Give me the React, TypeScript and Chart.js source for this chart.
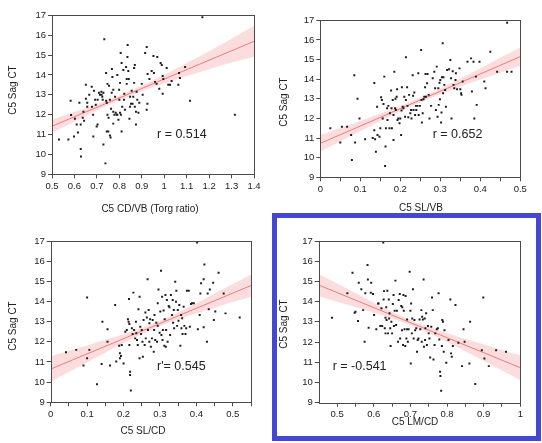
import React, { useEffect, useRef } from 'react';
import { Chart, registerables } from 'chart.js';

Chart.register(...registerables);

// ---------- Panel 1: C5 CD/VB (Torg ratio) ----------
const x1 = [
  0.531, 0.573, 0.583, 0.585, 0.598, 0.602, 0.610, 0.616, 0.622, 0.628,
  0.628, 0.629, 0.637, 0.640, 0.643, 0.651, 0.651, 0.657, 0.657, 0.666,
  0.677, 0.678, 0.683, 0.684, 0.687, 0.692, 0.695, 0.699, 0.703, 0.703,
  0.709, 0.714, 0.720, 0.721, 0.724, 0.726, 0.729, 0.729, 0.733, 0.738,
  0.741, 0.741, 0.744, 0.744, 0.747, 0.747, 0.751, 0.752, 0.754, 0.758,
  0.758, 0.761, 0.763, 0.766, 0.767, 0.769, 0.773, 0.773, 0.773, 0.778,
  0.781, 0.784, 0.788, 0.791, 0.791, 0.796, 0.799, 0.800, 0.803, 0.803,
  0.806, 0.807, 0.810, 0.810, 0.813, 0.818, 0.821, 0.822, 0.825, 0.830,
  0.833, 0.833, 0.836, 0.837, 0.840, 0.842, 0.845, 0.848, 0.848, 0.852,
  0.855, 0.859, 0.862, 0.866, 0.866, 0.869, 0.869, 0.874, 0.874, 0.877,
  0.880, 0.885, 0.889, 0.900, 0.904, 0.915, 0.922, 0.922, 0.925, 0.926,
  0.934, 0.944, 0.952, 0.954, 0.959, 0.966, 0.969, 0.978, 0.984, 0.989,
  0.993, 0.993, 0.996, 1.011, 1.018, 1.026, 1.033, 1.063, 1.066, 1.070,
  1.093, 1.115, 1.170, 1.315,
];
const y1 = [
  10.75, 10.75, 12.7, 11.98, 10.9, 11.8, 11.5, 11.1, 12.6, 11.5,
  10.27, 9.9, 11.85, 12.15, 11.7, 13.5, 12.8, 12.4, 12.6, 13.0,
  13.4, 12.4, 12.0, 10.9, 13.2, 12.75, 12.5, 11.4, 11.5, 12.75,
  13.1, 13.0, 13.15, 13.0, 12.9, 12.75, 13.1, 10.5, 15.8, 9.55,
  14.1, 12.7, 11.15, 12.6, 13.55, 12.0, 11.15, 11.85, 13.45, 10.95,
  12.75, 10.85, 12.3, 13.1, 14.3, 13.9, 13.25, 12.15, 11.55, 12.0,
  12.9, 12.1, 12.0, 14.0, 12.0, 11.75, 13.25, 12.75, 13.6, 12.1,
  15.1, 12.0, 14.6, 11.15, 12.4, 14.25, 12.75, 13.05, 12.25, 14.4,
  13.8, 13.55, 14.9, 15.5, 14.2, 13.8, 11.8, 12.4, 12.9, 12.55,
  13.2, 12.55, 12.9, 13.6, 14.35, 14.5, 12.4, 12.15, 11.5, 13.15,
  12.75, 12.1, 12.6, 13.55, 13.0, 15.1, 15.4, 12.25, 12.55, 14.05,
  13.8, 14.2, 14.95, 14.1, 13.65, 13.55, 14.9, 13.3, 14.6, 14.5,
  13.95, 13.05, 13.8, 14.35, 13.5, 13.5, 13.7, 13.5, 14.1, 13.85,
  14.4, 12.7, 16.9, 12.0,
];
const xTicks1 = [0.5, 0.6, 0.7, 0.8, 0.9, 1.0, 1.1, 1.2, 1.3, 1.4];
const fitX1 = [0.5, 1.4];
const fitY1 = [11.42, 15.69];
const bandX1 = [0.5, 0.6, 0.7, 0.8, 0.9, 1.0, 1.1, 1.2, 1.3, 1.4];
const bandUp1 = [11.75, 12.13, 12.53, 12.96, 13.46, 14.01, 14.6, 15.19, 15.82, 16.46];
const bandLo1 = [11.09, 11.65, 12.21, 12.72, 13.18, 13.57, 13.94, 14.29, 14.62, 14.92];

// ---------- Panel 2: C5 SL/VB ----------
const x2 = [
  0.025, 0.05, 0.054, 0.067, 0.077, 0.079, 0.085, 0.087, 0.093, 0.098,
  0.112, 0.131, 0.135, 0.135, 0.137, 0.139, 0.142, 0.143, 0.148, 0.15,
  0.152, 0.154, 0.156, 0.158, 0.16, 0.162, 0.163, 0.164, 0.167, 0.168,
  0.17, 0.173, 0.174, 0.177, 0.178, 0.179, 0.181, 0.183, 0.183, 0.185,
  0.187, 0.188, 0.189, 0.191, 0.192, 0.193, 0.195, 0.198, 0.2, 0.202,
  0.203, 0.204, 0.206, 0.208, 0.21, 0.212, 0.214, 0.214, 0.217, 0.218,
  0.22, 0.222, 0.225, 0.227, 0.228, 0.231, 0.232, 0.233, 0.235, 0.237,
  0.239, 0.24, 0.243, 0.245, 0.246, 0.249, 0.252, 0.253, 0.254, 0.256,
  0.258, 0.26, 0.262, 0.263, 0.264, 0.267, 0.268, 0.271, 0.273, 0.277,
  0.281, 0.285, 0.287, 0.289, 0.291, 0.293, 0.295, 0.296, 0.298, 0.299,
  0.3, 0.302, 0.303, 0.304, 0.306, 0.307, 0.308, 0.31, 0.312, 0.314,
  0.317, 0.322, 0.325, 0.327, 0.328, 0.331, 0.333, 0.335, 0.338, 0.339,
  0.342, 0.348, 0.35, 0.352, 0.353, 0.356, 0.368, 0.377, 0.379, 0.383,
  0.385, 0.389, 0.391, 0.398, 0.41, 0.413, 0.425, 0.442, 0.467, 0.467,
  0.478,
];
const y2 = [
  11.5, 10.77, 11.58, 11.58, 11.16, 9.88, 14.2, 10.77, 13.0, 12.0,
  10.94, 11.0, 13.8, 11.4, 10.94, 10.3, 12.6, 11.16, 11.07, 11.5,
  13.08, 12.94, 12.0, 12.74, 14.13, 9.58, 10.57, 11.5, 12.52, 11.92,
  12.64, 11.5, 12.26, 13.42, 12.52, 11.5, 12.94, 12.18, 10.9, 14.38,
  12.52, 13.0, 12.43, 13.11, 13.49, 11.92, 12.0, 11.75, 12.0, 11.16,
  12.4, 13.59, 12.6, 12.52, 13.11, 12.09, 15.12, 12.94, 13.59, 12.64,
  12.06, 13.2, 12.26, 12.43, 12.0, 14.2, 13.15, 12.43, 13.32, 12.18,
  12.64, 12.43, 12.64, 14.3, 12.18, 12.64, 15.49, 12.94, 11.79, 12.26,
  12.98, 13.11, 13.59, 14.26, 13.11, 13.79, 14.26, 13.2, 12.0, 12.64,
  14.05, 14.38, 13.54, 12.43, 14.64, 12.09, 13.54, 12.69, 13.82, 12.98,
  13.96, 11.79, 12.3, 14.1, 15.83, 13.28, 14.1, 13.71, 13.45, 12.6,
  14.47, 14.5, 14.98, 14.05, 12.0, 14.4, 13.71, 13.54, 13.96, 14.3,
  13.49, 14.55, 13.49, 13.28, 13.2, 13.88, 14.89, 15.06, 13.37, 14.89,
  12.0, 14.13, 12.69, 14.89, 13.88, 13.54, 15.4, 14.38, 16.88, 14.38,
  14.38,
];
const xTicks2 = [0, 0.05, 0.1, 0.15, 0.2, 0.25, 0.3, 0.35, 0.4, 0.45, 0.5];
const fitX2 = [0, 0.5];
const fitY2 = [10.73, 15.15];
const bandX2 = [0, 0.05, 0.1, 0.15, 0.2, 0.25, 0.3, 0.35, 0.4, 0.45, 0.5];
const bandUp2 = [11.15, 11.51, 11.87, 12.25, 12.63, 13.06, 13.53, 14.03, 14.56, 15.09, 15.62];
const bandLo2 = [10.31, 10.83, 11.35, 11.87, 12.37, 12.82, 13.23, 13.61, 13.98, 14.33, 14.68];

// ---------- Panel 3: C5 SL/CD ----------
const x3 = [
  0.042, 0.07, 0.09, 0.1, 0.1, 0.106, 0.127, 0.14, 0.142, 0.156,
  0.156, 0.163, 0.177, 0.18, 0.188, 0.19, 0.19, 0.193, 0.195, 0.2,
  0.205, 0.209, 0.212, 0.214, 0.215, 0.216, 0.216, 0.218, 0.218, 0.22,
  0.223, 0.225, 0.227, 0.229, 0.232, 0.234, 0.235, 0.237, 0.239, 0.241,
  0.244, 0.244, 0.246, 0.248, 0.25, 0.252, 0.253, 0.255, 0.258, 0.26,
  0.261, 0.264, 0.266, 0.267, 0.269, 0.271, 0.271, 0.273, 0.275, 0.278,
  0.28, 0.283, 0.284, 0.285, 0.287, 0.29, 0.292, 0.294, 0.294, 0.296,
  0.299, 0.301, 0.303, 0.304, 0.306, 0.307, 0.308, 0.31, 0.312, 0.313,
  0.315, 0.316, 0.317, 0.319, 0.321, 0.324, 0.326, 0.328, 0.33, 0.333,
  0.335, 0.336, 0.338, 0.339, 0.342, 0.344, 0.345, 0.347, 0.349, 0.351,
  0.353, 0.356, 0.358, 0.359, 0.361, 0.362, 0.365, 0.367, 0.37, 0.372,
  0.374, 0.379, 0.382, 0.385, 0.388, 0.393, 0.402, 0.404, 0.409, 0.411,
  0.413, 0.42, 0.42, 0.422, 0.429, 0.431, 0.434, 0.437, 0.446, 0.448,
  0.452, 0.461, 0.475, 0.48, 0.519,
];
const y3 = [
  11.48, 11.6, 10.82, 14.2, 11.18, 11.6, 9.9, 10.9, 13.0, 12.62,
  12.0, 10.82, 13.83, 11.02, 11.8, 11.43, 11.18, 11.3, 11.84, 10.93,
  12.5, 12.59, 13.12, 13.0, 14.12, 12.88, 11.84, 10.52, 10.35, 9.58,
  12.67, 12.39, 14.44, 12.59, 12.17, 13.0, 12.42, 12.09, 11.84, 13.61,
  14.24, 11.18, 12.75, 12.39, 12.59, 12.0, 11.26, 13.08, 11.84, 13.45,
  12.17, 13.21, 15.1, 12.59, 13.58, 12.92, 12.0, 13.12, 11.76, 12.17,
  13.08, 11.51, 12.59, 13.33, 12.09, 12.95, 12.0, 12.79, 13.91, 14.6,
  12.45, 13.5, 15.53, 12.34, 14.24, 12.09, 12.59, 13.55, 11.8, 13.12,
  14.32, 11.76, 12.59, 14.07, 12.0, 13.78, 13.71, 12.34, 14.32, 13.33,
  14.07, 12.95, 13.58, 12.67, 14.98, 13.99, 14.53, 12.79, 13.58, 13.05,
  13.83, 11.8, 13.33, 12.67, 13.17, 12.39, 13.74, 12.79, 12.39, 12.67,
  14.53, 14.53, 12.75, 13.88, 13.91, 13.91, 16.92, 12.62, 13.33, 14.4,
  14.9, 15.1, 12.72, 15.84, 12.0, 14.4, 13.61, 14.6, 14.93, 13.08,
  13.5, 15.43, 14.4, 13.41, 13.21,
];
const xTicks3 = [0, 0.05, 0.1, 0.15, 0.2, 0.25, 0.3, 0.35, 0.4, 0.45, 0.5, 0.55];
const fitX3 = [0, 0.55];
const fitY3 = [10.65, 14.79];
const bandX3 = [0, 0.05, 0.1, 0.15, 0.2, 0.25, 0.3, 0.35, 0.4, 0.45, 0.5, 0.55];
const bandUp3 = [11.29, 11.56, 11.82, 12.1, 12.38, 12.68, 13.04, 13.46, 13.91, 14.39, 14.87, 15.34];
const bandLo3 = [10.01, 10.5, 10.98, 11.46, 11.94, 12.38, 12.78, 13.12, 13.41, 13.69, 13.97, 14.24];

// ---------- Panel 4: C5 LM/CD ----------
const x4 = [
  0.486, 0.528, 0.542, 0.548, 0.55, 0.557, 0.559, 0.566, 0.571, 0.575,
  0.577, 0.583, 0.584, 0.586, 0.592, 0.593, 0.598, 0.601, 0.607, 0.612,
  0.613, 0.618, 0.621, 0.623, 0.626, 0.627, 0.628, 0.63, 0.632, 0.632,
  0.634, 0.635, 0.637, 0.639, 0.641, 0.642, 0.643, 0.645, 0.646, 0.648,
  0.65, 0.652, 0.654, 0.655, 0.657, 0.659, 0.661, 0.663, 0.666, 0.668,
  0.671, 0.672, 0.675, 0.677, 0.678, 0.68, 0.681, 0.682, 0.684, 0.686,
  0.687, 0.689, 0.691, 0.691, 0.693, 0.695, 0.698, 0.7, 0.701, 0.702,
  0.704, 0.705, 0.707, 0.709, 0.711, 0.713, 0.716, 0.718, 0.72, 0.722,
  0.725, 0.727, 0.73, 0.731, 0.732, 0.734, 0.736, 0.737, 0.739, 0.74,
  0.741, 0.743, 0.745, 0.748, 0.75, 0.752, 0.754, 0.757, 0.759, 0.761,
  0.763, 0.766, 0.768, 0.772, 0.775, 0.777, 0.779, 0.781, 0.782, 0.784,
  0.786, 0.787, 0.789, 0.791, 0.793, 0.798, 0.804, 0.809, 0.811, 0.813,
  0.816, 0.823, 0.831, 0.841, 0.845, 0.848, 0.861, 0.863, 0.877, 0.895,
  0.899, 0.902, 0.914, 0.934, 0.961,
];
const y4 = [
  13.2, 14.41, 15.43, 13.45, 13.5, 13.04, 14.94, 14.61, 13.58, 12.02,
  14.41, 15.81, 15.1, 12.71, 14.44, 14.94, 14.38, 13.34, 12.63, 13.91,
  13.91, 12.79, 13.67, 12.79, 16.92, 14.11, 14.52, 12.68, 13.2, 12.43,
  13.72, 13.09, 14.54, 12.43, 14.11, 13.17, 13.42, 12.68, 11.8, 13.01,
  12.43, 13.88, 14.33, 12.79, 13.55, 15.04, 12.84, 13.55, 12.02, 14.08,
  14.38, 12.18, 13.78, 12.59, 13.72, 11.85, 14.33, 13.55, 12.63, 11.8,
  14.28, 12.18, 12.63, 13.12, 12.02, 12.63, 15.48, 13.55, 10.94, 13.91,
  12.43, 13.17, 14.61, 12.18, 13.09, 12.59, 12.68, 11.52, 12.1, 12.18,
  13.12, 12.63, 13.58, 12.02, 13.25, 13.12, 15.1, 11.77, 13.17, 12.1,
  12.68, 13.42, 11.85, 12.79, 12.43, 12.18, 11.24, 12.76, 14.21, 13.58,
  11.14, 11.85, 12.43, 12.63, 12.68, 14.41, 12.13, 10.53, 10.32, 9.59,
  11.8, 13.09, 13.01, 11.52, 12.59, 10.98, 12.1, 14.11, 11.44, 11.27,
  11.8, 13.83, 11.97, 10.81, 12.63, 12.02, 10.94, 13.01, 9.92, 11.6,
  14.21, 11.19, 10.81, 11.6, 11.52,
];
const xTicks4 = [0.5, 0.55, 0.6, 0.65, 0.7, 0.75, 0.8, 0.85, 0.9, 0.95, 1.0];
const fitX4 = [0.45, 1.0];
const fitY4 = [14.82, 10.73];
const bandX4 = [0.45, 0.5, 0.55, 0.6, 0.65, 0.7, 0.75, 0.8, 0.85, 0.9, 0.95, 1.0];
const bandUp4 = [15.37, 14.9, 14.43, 13.95, 13.5, 13.09, 12.74, 12.44, 12.16, 11.88, 11.61, 11.35];
const bandLo4 = [14.27, 14.0, 13.73, 13.45, 13.16, 12.83, 12.44, 12.0, 11.54, 11.06, 10.59, 10.11];

const yTicks = [9, 10, 11, 12, 13, 14, 15, 16, 17];
const yTitle = 'C5 Sag CT';
const xTitles = ['C5 CD/VB (Torg ratio)', 'C5 SL/VB', 'C5 SL/CD', 'C5 LM/CD'];
const rLabels = ['r = 0.514', 'r = 0.652', "r'= 0.545", 'r = -0.541'];

const FONT = '"Liberation Sans", Arial, Helvetica, sans-serif';

type Panel = {
  xs: number[]; ys: number[]; xMin: number; xMax: number; xTicks: number[];
  fitX: number[]; fitY: number[]; bandX: number[]; bandUp: number[]; bandLo: number[];
  xTitle: string; r: string;
  area: { l: number; t: number; r: number; b: number };
  xt: [number, number]; yt: [number, number]; rp: [number, number];
};

const panels: Panel[] = [
  {
    xs: x1, ys: y1, xMin: 0.5, xMax: 1.4, xTicks: xTicks1,
    fitX: fitX1, fitY: fitY1, bandX: bandX1, bandUp: bandUp1, bandLo: bandLo1,
    xTitle: xTitles[0], r: rLabels[0],
    area: { l: 52, t: 15.3, r: 254, b: 174.3 },
    xt: [150, 209], yt: [13.5, 90], rp: [157, 135],
  },
  {
    xs: x2, ys: y2, xMin: 0, xMax: 0.5, xTicks: xTicks2,
    fitX: fitX2, fitY: fitY2, bandX: bandX2, bandUp: bandUp2, bandLo: bandLo2,
    xTitle: xTitles[1], r: rLabels[1],
    area: { l: 320.3, t: 20.3, r: 520.3, b: 177.3 },
    xt: [421, 208.5], yt: [284.7, 102], rp: [432.7, 135],
  },
  {
    xs: x3, ys: y3, xMin: 0, xMax: 0.55, xTicks: xTicks3,
    fitX: fitX3, fitY: fitY3, bandX: bandX3, bandUp: bandUp3, bandLo: bandLo3,
    xTitle: xTitles[2], r: rLabels[2],
    area: { l: 50.7, t: 241, r: 251, b: 402.3 },
    xt: [143, 431.5], yt: [12.8, 326], rp: [157, 366.7],
  },
  {
    xs: x4, ys: y4, xMin: 0.45, xMax: 1.0, xTicks: xTicks4,
    fitX: fitX4, fitY: fitY4, bandX: bandX4, bandUp: bandUp4, bandLo: bandLo4,
    xTitle: xTitles[3], r: rLabels[3],
    area: { l: 318.8, t: 241, r: 520.3, b: 402.7 },
    xt: [415, 422.5], yt: [284.3, 324], rp: [332.7, 366.7],
  },
];

const W = 542;
const H = 443;
const Y_AXIS_W = 40;
const X_AXIS_H = 30;

const decorPlugin = {
  id: 'decor',
  afterDatasetsDraw(chart: any, _args: any, opts: any) {
    const { ctx, chartArea: a } = chart;
    ctx.save();
    ctx.strokeStyle = '#4a4a4a';
    ctx.lineWidth = 1;
    const l = Math.round(a.left) + 0.5;
    const t = Math.round(a.top) + 0.5;
    const r = Math.round(a.right) + 0.5;
    const b = Math.round(a.bottom) + 0.5;
    ctx.strokeRect(l, t, r - l, b - t);
    ctx.fillStyle = '#222';
    ctx.font = `10px ${FONT}`;
    ctx.textAlign = 'center';
    ctx.textBaseline = 'middle';
    ctx.fillText(opts.xTitle, opts.xt[0], opts.xt[1]);
    ctx.save();
    ctx.translate(opts.yt[0], opts.yt[1]);
    ctx.rotate(-Math.PI / 2);
    ctx.fillText(opts.yTitle, 0, 0);
    ctx.restore();
    ctx.font = `12.5px ${FONT}`;
    ctx.textAlign = 'left';
    ctx.fillText(opts.r, opts.rp[0], opts.rp[1]);
    ctx.restore();
  },
};

function makeConfig(p: Panel): any {
  const pts = p.xs.map((x, i) => ({ x, y: p.ys[i] }));
  const fit = p.fitX.map((x, i) => ({ x, y: p.fitY[i] }));
  const up = p.bandX.map((x, i) => ({ x, y: p.bandUp[i] }));
  const lo = p.bandX.map((x, i) => ({ x, y: p.bandLo[i] }));
  return {
    type: 'scatter',
    data: {
      datasets: [
        {
          type: 'scatter', data: pts, pointStyle: 'rect', pointRadius: 1.4,
          pointBackgroundColor: '#1c1c1c', pointBorderWidth: 0, borderWidth: 0,
        },
        {
          type: 'line', data: fit, borderColor: '#F07C7C', borderWidth: 1,
          pointRadius: 0, fill: false,
        },
        {
          type: 'line', data: lo, borderWidth: 0, borderColor: 'rgba(0,0,0,0)',
          pointRadius: 0, fill: false, cubicInterpolationMode: 'monotone',
        },
        {
          type: 'line', data: up, borderWidth: 0, borderColor: 'rgba(0,0,0,0)',
          pointRadius: 0, fill: '-1', backgroundColor: 'rgba(242,120,120,0.25)',
          cubicInterpolationMode: 'monotone',
        },
      ],
    },
    options: {
      responsive: false,
      maintainAspectRatio: false,
      devicePixelRatio: 1,
      animation: false,
      events: [],
      layout: {
        autoPadding: false,
        padding: {
          left: p.area.l - Y_AXIS_W,
          top: p.area.t,
          right: W - p.area.r,
          bottom: H - p.area.b - X_AXIS_H,
        },
      },
      plugins: {
        legend: { display: false },
        tooltip: { enabled: false },
        decor: { xTitle: p.xTitle, yTitle, r: p.r, xt: p.xt, yt: p.yt, rp: p.rp },
      },
      scales: {
        x: {
          type: 'linear', min: p.xMin, max: p.xMax,
          afterFit: (s: any) => { s.height = X_AXIS_H; },
          afterBuildTicks: (s: any) => { s.ticks = p.xTicks.map((v) => ({ value: v })); },
          border: { display: false },
          grid: { display: true, drawOnChartArea: false, drawTicks: true, tickLength: 4, color: '#4a4a4a' },
          ticks: {
            autoSkip: false, maxRotation: 0, padding: 2, color: '#222',
            font: { size: 9.5, family: FONT },
            callback: (v: number) => {
              const t = Math.round(v * 10);
              return Math.abs(v * 10 - t) < 1e-6 ? String(t / 10) : '';
            },
          },
        },
        y: {
          type: 'linear', min: 9, max: 17,
          afterFit: (s: any) => { s.width = Y_AXIS_W; },
          afterBuildTicks: (s: any) => { s.ticks = yTicks.map((v) => ({ value: v })); },
          border: { display: false },
          grid: { display: true, drawOnChartArea: false, drawTicks: true, tickLength: 4, color: '#4a4a4a' },
          ticks: {
            autoSkip: false, padding: 2, color: '#222',
            font: { size: 9.5, family: FONT },
            callback: (v: number) => String(v),
          },
        },
      },
    },
    plugins: [decorPlugin],
  };
}

function PanelChart({ p }: { p: Panel }) {
  const ref = useRef<HTMLCanvasElement>(null);
  useEffect(() => {
    const chart = new Chart(ref.current as HTMLCanvasElement, makeConfig(p));
    return () => chart.destroy();
  }, [p]);
  return (
    <canvas
      ref={ref}
      width={W}
      height={H}
      style={{ position: 'absolute', left: 0, top: 0, width: W, height: H }}
    />
  );
}

export default function App() {
  return (
    <div style={{ position: 'absolute', left: 0, top: 0, width: W, height: H, background: '#fff', overflow: 'hidden' }}>
      {panels.map((p, i) => (
        <PanelChart key={i} p={p} />
      ))}
      <div
        style={{
          position: 'absolute', left: 272, top: 213, width: 269, height: 228,
          border: '5px solid #4447D4', boxSizing: 'border-box', pointerEvents: 'none',
        }}
      />
    </div>
  );
}
